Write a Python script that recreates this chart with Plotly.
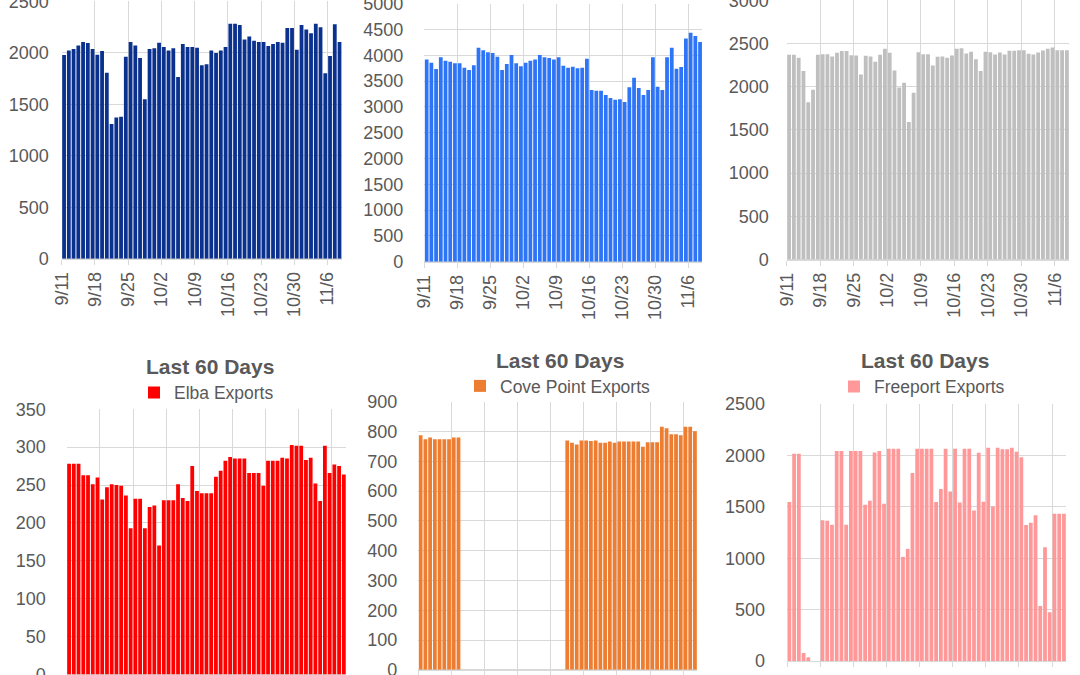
import pandas as pd
import plotly.graph_objects as go

# ---------------- data ----------------
start_date = "2021-09-11"
n_days = 59
dates = pd.date_range(start_date, periods=n_days, freq="D")

top_left_vals = [1977, 2022, 2035, 2071, 2103, 2094, 2035,
                 1980, 2016, 1806, 1307, 1372, 1378, 1961,
                 2103, 2071, 1948, 1547, 2035, 2042, 2097,
                 2055, 2022, 2042, 1764, 2084, 2055, 2055,
                 2048, 1877, 1887, 2022, 1997, 2022, 2055,
                 2282, 2282, 2269, 2129, 2158, 2116, 2103,
                 2103, 2065, 2084, 2103, 2097, 2239, 2239,
                 2029, 2269, 2226, 2188, 2282, 2246, 1800,
                 1968, 2275, 2103]

top_mid_vals = [3921, 3857, 3734, 3960, 3895, 3876, 3844,
                3844, 3760, 3715, 3805, 4147, 4096, 4057,
                4044, 3973, 3715, 3831, 4005, 3844, 3786,
                3857, 3895, 3921, 4005, 3960, 3947, 3921,
                3960, 3798, 3760, 3779, 3747, 3760, 3934,
                3327, 3314, 3314, 3230, 3172, 3140, 3146,
                3094, 3379, 3566, 3366, 3230, 3327, 3960,
                3392, 3327, 3960, 4147, 3740, 3773, 4328,
                4438, 4373, 4257]

top_right_vals = [2369, 2369, 2335, 2181, 1819, 1965, 2369,
                  2377, 2377, 2350, 2392, 2412, 2412, 2365,
                  2362, 2142, 2358, 2350, 2288, 2369, 2438,
                  2392, 2188, 1992, 2046, 1592, 1931, 2400,
                  2377, 2377, 2246, 2346, 2350, 2335, 2362,
                  2438, 2446, 2385, 2404, 2319, 2181, 2404,
                  2400, 2373, 2396, 2373, 2415, 2415, 2423,
                  2423, 2381, 2373, 2396, 2419, 2438, 2454,
                  2423, 2423, 2423]

elba_vals = [278, 278, 278, 263, 263, 251, 260,
             231, 247, 251, 250, 249, 236, 193,
             232, 232, 193, 221, 223, 170, 230,
             230, 230, 251, 233, 229, 275, 242,
             239, 239, 239, 261, 269, 282, 287,
             285, 285, 285, 266, 266, 266, 249,
             282, 282, 282, 286, 285, 303, 302,
             302, 283, 286, 252, 229, 302, 266,
             277, 275, 264]

cove_point_vals = [787, 774, 780, 774, 774, 774, 774,
                   780, 780, None, None, None, None, None,
                   None, None, None, None, None, None, None,
                   None, None, None, None, None, None, None,
                   None, None, None, 770, 762, 756, 770,
                   770, 768, 770, 762, 762, 766, 762,
                   766, 766, 766, 766, 766, 749, 764,
                   764, 764, 816, 811, 791, 791, 787,
                   816, 816, 801]

freeport_vals = [1546, 2016, 2016, 78, 36, 0, 0,
                 1370, 1364, 1325, 2042, 2042, 1325, 2042,
                 2042, 2042, 1520, 1559, 2029, 2042, 1529,
                 2065, 2065, 2065, 1013, 1091, 1828, 2065,
                 2065, 2065, 2065, 1546, 1672, 2065, 1649,
                 2065, 1542, 2065, 2065, 1464, 2026, 1549,
                 2075, 1503, 2075, 2059, 2059, 2075, 2036,
                 1981, 1322, 1344, 1419, 536, 1107, 474,
                 1432, 1432, 1432]

panel_title = "Last 60 Days"
legend_names = ["Elba Exports", "Cove Point Exports", "Freeport Exports"]

# ---------------- layout helpers ----------------
W, H = 1080, 675
GRID = "#D9D9D9"
TXT = "#595959"
FONT = "Liberation Sans, Arial, sans-serif"
DAY_MS = 86400000

panels = [
    dict(vals=top_left_vals, color="#0B318F", name="Top left", yr=[0, 2500], dt=500,
         px=(61.7, 341.9), py=(258.7, 1.2), leg=None, so=12),
    dict(vals=top_mid_vals, color="#2E74F7", name="Top middle", yr=[0, 5000], dt=500,
         px=(424.3, 702.4), py=(261.7, 3.7), leg=None, so=20),
    dict(vals=top_right_vals, color="#BFBFBF", name="Top right", yr=[0, 3000], dt=500,
         px=(786.7, 1069.3), py=(259.5, 0.3), leg=None, so=17),
    dict(vals=elba_vals, color="#FF0000", name=legend_names[0], yr=[-0.92, 350], dt=50,
         px=(66.7, 346.2), py=(675.0, 409.3), leg="legend", so=20),
    dict(vals=cove_point_vals, color="#ED7D31", name=legend_names[1], yr=[0, 900], dt=100,
         px=(418.3, 697.3), py=(669.8, 401.7), leg="legend2", so=20),
    dict(vals=freeport_vals, color="#FF9999", name=legend_names[2], yr=[0, 2500], dt=500,
         px=(787.0, 1066.3), py=(661.0, 404.0), leg="legend3", so=21),
]

fig = go.Figure()
x_end = (dates[-1] + pd.Timedelta(days=1)).strftime("%Y-%m-%d")

for i, p in enumerate(panels, start=1):
    xa = "x" if i == 1 else f"x{i}"
    ya = "y" if i == 1 else f"y{i}"
    fig.add_trace(go.Bar(
        x=dates, y=p["vals"], xaxis=xa, yaxis=ya,
        xperiod=DAY_MS, xperiodalignment="middle",
        marker=dict(color=p["color"], line=dict(width=0)),
        name=p["name"],
        showlegend=p["leg"] is not None,
        legend=p["leg"] if p["leg"] else "legend",
    ))
    xkey = "xaxis" if i == 1 else f"xaxis{i}"
    ykey = "yaxis" if i == 1 else f"yaxis{i}"
    fig.layout[xkey] = dict(
        domain=[p["px"][0] / W, p["px"][1] / W], anchor=ya, type="date",
        range=[start_date, x_end], tick0=start_date, dtick=7 * DAY_MS,
        tickformat="%-m/%-d", tickangle=-90,
        showgrid=True, gridcolor=GRID, gridwidth=1,
        showline=True, linecolor=GRID, linewidth=1,
        ticks="outside", ticklen=5, tickcolor=GRID,
        ticklabeloverflow="allow",
        tickfont=dict(family=FONT, size=18, color=TXT),
        automargin=False, fixedrange=True,
    )
    fig.layout[ykey] = dict(
        domain=[1 - p["py"][0] / H, 1 - p["py"][1] / H], anchor=xa,
        range=p["yr"], tick0=0, dtick=p["dt"],
        showgrid=True, gridcolor=GRID, gridwidth=1,
        zeroline=True, zerolinecolor=GRID, zerolinewidth=1,
        showline=False, ticks="", ticklabelstandoff=p["so"],
        ticklabeloverflow="allow",
        tickfont=dict(family=FONT, size=18, color=TXT),
        automargin=False, fixedrange=True,
    )

# titles of the bottom-row panels
for (cx, cy) in [(210, 366), (560, 360), (925, 360.7)]:
    fig.add_annotation(
        text=f"<b>{panel_title}</b>", xref="paper", yref="paper",
        x=cx / W, y=1 - cy / H, xanchor="center", yanchor="middle",
        showarrow=False, font=dict(family=FONT, size=21, color=TXT),
    )

legend_common = dict(orientation="h", xanchor="left", yanchor="middle",
                     bgcolor="rgba(0,0,0,0)", borderwidth=0,
                     font=dict(family=FONT, size=17.5, color=TXT),
                     itemwidth=30)
fig.update_layout(
    legend=dict(legend_common, x=(170 - 36) / W, y=1 - 392.7 / H),
    legend2=dict(legend_common, x=(496 - 36) / W, y=1 - 386 / H),
    legend3=dict(legend_common, x=(870 - 36) / W, y=1 - 386.7 / H),
)

fig.update_layout(
    width=W, height=H,
    margin=dict(l=0, r=0, t=0, b=0),
    paper_bgcolor="white", plot_bgcolor="white",
    bargap=0.2,
    font=dict(family=FONT, color=TXT),
)

fig.write_html("out.html")
